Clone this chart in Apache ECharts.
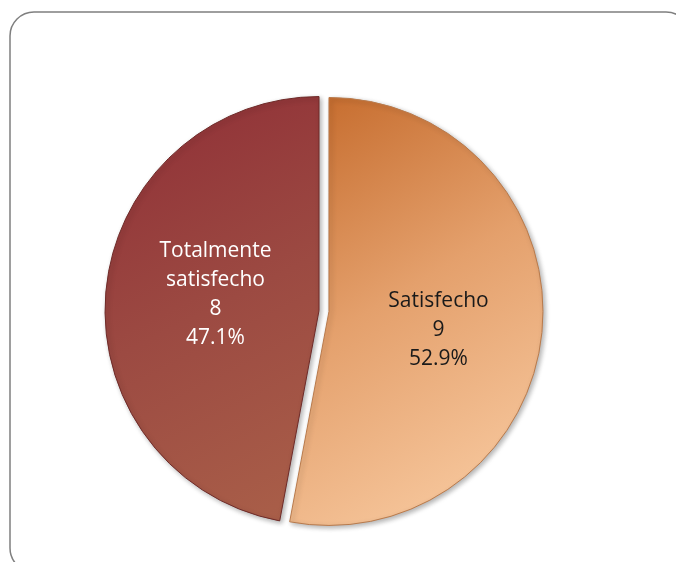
<!DOCTYPE html>
<html>
<head>
<meta charset="utf-8">
<script src="https://cdn.jsdelivr.net/npm/echarts@6/dist/echarts.min.js"></script>
<style>
html,body{margin:0;padding:0;background:#fff;}
#chart{width:676px;height:562px;}
</style>
</head>
<body>
<div id="chart"></div>
<script>
var categories = ['Satisfecho', 'Totalmente\nsatisfecho'];
var values = [9, 8];
var percentLabels = ['52.9%', '47.1%'];

var colors = [
  {type:'linear', x:0, y:0, x2:1, y2:1, colorStops:[
    {offset:0, color:'#c4692a'}, {offset:0.45, color:'#e4a06c'}, {offset:1, color:'#fbd0a8'}]},
  {type:'linear', x:0, y:0, x2:1, y2:1, colorStops:[
    {offset:0, color:'#8f2e36'}, {offset:0.5, color:'#9c4a42'}, {offset:1, color:'#aa6049'}]}
];
var borderColors = ['#b87a4c', '#6e2a28'];
var labelColors = ['#1a1a1a', '#ffffff'];
var labelPaddings = [[0, 0, 0, 0], [0, 0, 0, 12]];

var chart = echarts.init(document.getElementById('chart'));
chart.setOption({
  animation: false,
  graphic: [{
    type: 'rect',
    shape: {x: 10, y: 12, width: 680, height: 560, r: 24},
    style: {fill: 'none', stroke: '#7f7f7f', lineWidth: 1.5},
    silent: true
  }],
  series: [{
    type: 'pie',
    center: [324, 311],
    radius: [0, 214],
    startAngle: 90,
    clockwise: true,
    selectedMode: 'multiple',
    selectedOffset: 5,
    emphasis: {disabled: true},
    label: {
      show: true,
      position: 'inner',
      fontFamily: 'Open Sans',
      fontSize: 21,
      lineHeight: 29,
      align: 'center',
      rich: {
        t: {fontFamily: 'Open Sans', fontSize: 21, lineHeight: 29},
        g: {fontSize: 4, lineHeight: 16},
        h: {fontSize: 4, lineHeight: 12}
      },
      formatter: function (p) {
        var lines = p.name.split('\n').concat([String(p.value), percentLabels[p.dataIndex]]);
        var body = lines.map(function (l) { return '{t|' + l + '}'; }).join('\n');
        return p.dataIndex === 0 ? '{g| }\n' + body : body + '\n{h| }';
      }
    },
    labelLine: {show: false},
    data: categories.map(function (c, i) {
      return {
        name: c,
        value: values[i],
        selected: true,
        itemStyle: {
          color: colors[i],
          borderColor: borderColors[i],
          borderWidth: 1,
          shadowColor: 'rgba(0,0,0,0.3)',
          shadowBlur: 5,
          shadowOffsetX: 2,
          shadowOffsetY: 2
        },
        label: {color: labelColors[i], padding: labelPaddings[i]}
      };
    })
  }]
});
</script>
</body>
</html>
